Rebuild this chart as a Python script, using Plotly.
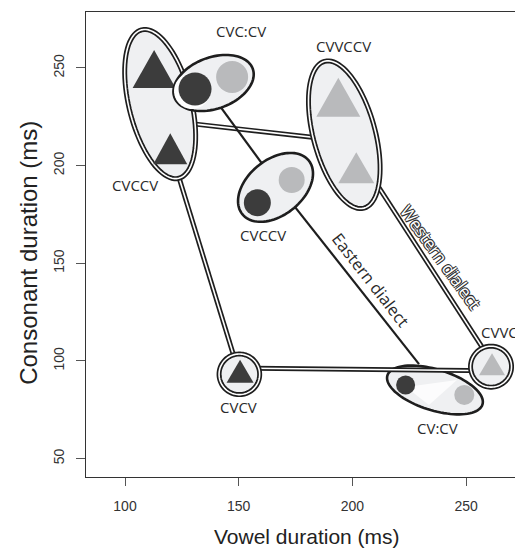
import numpy as np
import plotly.graph_objects as go

# ---------------- data (ms) ----------------
cvccv_w_x = [112.8, 119.9]; cvccv_w_y = [246.2, 206.0]   # Western CVCCV (dark triangles)
cvvccv_x = [193.8, 201.7];  cvvccv_y = [231.6, 196.2]    # Western CVVCCV (grey triangles)
cvcv_x = [150.6];           cvcv_y = [92.8]              # Western CVCV (dark triangle)
cvvcv_x = [261.4];          cvvcv_y = [96.4]             # Western CVVCV (grey triangle)
cvc_cv_x = [130.8, 147.1];  cvc_cv_y = [239.2, 245.3]    # Eastern CVC:CV (dark, grey circle)
cvccv_e_x = [158.2, 173.3]; cvccv_e_y = [181.0, 192.6]   # Eastern CVCCV
cv_cv_x = [223.4, 249.2];   cv_cv_y = [87.7, 82.6]       # Eastern CV:CV

western_links_x = [[120.7, 150.3], [124.2, 190.2], [205.5, 259.6], [150.3, 261.0]]
western_links_y = [[205.4, 93.2], [222.1, 213.5], [199.8, 102.5], [96.3, 95.0]]
eastern_path_x = [135.0, 167.5, 229.3]
eastern_path_y = [241.2, 189.5, 98.4]

x_ticks = [100, 150, 200, 250]
y_ticks = [50, 100, 150, 200, 250]

# ---------------- styles ----------------
DARK = "#3c3c3c"
GREY = "#b9babc"
FILL = "#eff0f2"
INK = "#1e1e1e"
XR = [82.85, 271.5]
YR = [40.6, 278.6]

shapes = []


def ellipse_path(a, b, ang, dx=0.0, dy=0.0, n=90):
    t = np.linspace(0, 2 * np.pi, n, endpoint=False)
    c, s = np.cos(np.radians(ang)), np.sin(np.radians(ang))
    ex, ey = a * np.cos(t), b * np.sin(t)
    px = ex * c - ey * s + dx
    py = ex * s + ey * c + dy
    return "M " + " L ".join(f"{u:.2f},{v:.2f}" for u, v in zip(px, py)) + " Z"


def anchored(path, ax, ay, **kw):
    d = dict(type="path", xref="x", yref="y", xsizemode="pixel", ysizemode="pixel",
             xanchor=ax, yanchor=ay, path=path, layer="below")
    d.update(kw)
    shapes.append(d)


def ellipse(xs, ys, a, b, ang, double, off=(0, 0)):
    cx, cy = float(np.mean(xs)), float(np.mean(ys))
    p = ellipse_path(a, b, ang, off[0], off[1])
    if double:
        anchored(p, cx, cy, fillcolor=FILL, line=dict(color=INK, width=5))
        anchored(p, cx, cy, fillcolor="rgba(0,0,0,0)", line=dict(color="white", width=1.6))
    else:
        anchored(p, cx, cy, fillcolor=FILL, line=dict(color=INK, width=2.6))


def triangle(x, y, w, h, color):
    p = f"M {-w/2:.2f},{-h/3:.2f} L {w/2:.2f},{-h/3:.2f} L 0,{2*h/3:.2f} Z"
    anchored(p, x, y, fillcolor=color, line=dict(width=0))


def double_line(x0, y0, x1, y1):
    shapes.append(dict(type="line", xref="x", yref="y", x0=x0, y0=y0, x1=x1, y1=y1,
                       layer="below", line=dict(color=INK, width=5)))
    shapes.append(dict(type="line", xref="x", yref="y", x0=x0, y0=y0, x1=x1, y1=y1,
                       layer="below", line=dict(color="white", width=1.6)))


# CV:CV ellipse first (lines cross it)
ellipse(cv_cv_x, cv_cv_y, 49.7, 20.5, -17, False)
anchored("M -29,3 L -6,-15 L 22,10 Z", float(np.mean(cv_cv_x)), float(np.mean(cv_cv_y)),
         fillcolor="rgba(255,255,255,0.8)", line=dict(width=0))

# connecting lines
for lx, ly in zip(western_links_x, western_links_y):
    double_line(lx[0], ly[0], lx[1], ly[1])
for i in range(len(eastern_path_x) - 1):
    shapes.append(dict(type="line", xref="x", yref="y",
                       x0=eastern_path_x[i], y0=eastern_path_y[i],
                       x1=eastern_path_x[i + 1], y1=eastern_path_y[i + 1],
                       layer="below", line=dict(color=INK, width=2.2)))

# Western CVCCV
ellipse(cvccv_w_x, cvccv_w_y, 76.5, 31.2, 104, True, off=(-2, 10.5))
triangle(cvccv_w_x[0], cvccv_w_y[0], 43, 38, DARK)
triangle(cvccv_w_x[1], cvccv_w_y[1], 34, 31, DARK)
# Eastern CVC:CV
ellipse(cvc_cv_x, cvc_cv_y, 41.7, 25.7, 20, False)
anchored(ellipse_path(18, 18, 0, -3, -2), cvc_cv_x[0], cvc_cv_y[0],
         fillcolor="white", line=dict(width=0))
# Eastern CVCCV
ellipse(cvccv_e_x, cvccv_e_y, 42.7, 27.7, 39, False, off=(1, 4))
# Western CVVCCV
ellipse(cvvccv_x, cvvccv_y, 76, 31, 105, True, off=(-3, 3.7))
triangle(cvvccv_x[0], cvvccv_y[0], 44, 39, GREY)
triangle(cvvccv_x[1], cvvccv_y[1], 36, 31, GREY)
# Western CVCV
ellipse(cvcv_x, cvcv_y, 20.3, 20.3, 0, True, off=(-0.7, 0.7))
triangle(cvcv_x[0], cvcv_y[0], 27, 23, DARK)
# Western CVVCV
ellipse(cvvcv_x, cvvcv_y, 20.5, 20.5, 0, True, off=(-1, 1.3))
triangle(cvvcv_x[0], cvvcv_y[0], 26, 22, GREY)

fig = go.Figure()
# Eastern circles (dark first point, grey second point in each group)
for xs, ys, sizes in [(cvc_cv_x, cvc_cv_y, [33, 32]),
                      (cvccv_e_x, cvccv_e_y, [27, 26]),
                      (cv_cv_x, cv_cv_y, [19, 20])]:
    fig.add_trace(go.Scatter(x=xs, y=ys, mode="markers", opacity=1,
                             marker=dict(size=sizes, color=[DARK, GREY], opacity=1,
                                         line=dict(width=0)),
                             hoverinfo="x+y", showlegend=False))

LBL = dict(family="Open Sans", size=15, color="#2a2a2a")
ann = []


def label(text, x, y, xanchor="center", font=LBL, angle=0):
    ann.append(dict(text=text, x=x, y=y, xref="x", yref="y", showarrow=False,
                    xanchor=xanchor, yanchor="middle", font=font, textangle=angle))


label("CVC:CV", 151.0, 268.9)
label("CVVCCV", 195.9, 261.3)
label("CVCCV", 104.4, 190.0)
label("CVCCV", 160.8, 164.4)
label("CVCV", 150.1, 76.6)
label("CVVCV", 255.7, 115.0, xanchor="left")
label("CV:CV", 237.4, 65.9)
label("Eastern dialect", 207.96, 141.5,
      font=dict(family="Open Sans", size=16.5, color="#2a2a2a"), angle=52)
label("Western dialect", 238.9, 152.9,
      font=dict(family="Open Sans", size=17, color="white",
                shadow="-1px -1px 0 #333, 1px -1px 0 #333, -1px 1px 0 #333, 1px 1px 0 #333"),
      angle=54)

AX = dict(family="Liberation Sans, Arial, sans-serif", color="#222")
ann.append(dict(text="Vowel duration (ms)", x=0.515, y=-0.129, xref="paper", yref="paper",
                showarrow=False, xanchor="center", yanchor="middle", font=dict(AX, size=21)))
ann.append(dict(text="Consonant duration (ms)", x=-0.133, y=0.482, xref="paper", yref="paper",
                showarrow=False, xanchor="center", yanchor="middle", textangle=-90,
                font=dict(AX, size=24)))

fig.update_layout(
    width=515, height=548,
    margin=dict(l=86, r=0, t=12, b=71),
    plot_bgcolor="white", paper_bgcolor="white",
    showlegend=False,
    shapes=shapes, annotations=ann,
    xaxis=dict(range=XR, tickvals=x_ticks, ticks="outside", ticklen=8, tickwidth=1,
               tickcolor="#555", showline=True, linecolor="#333", linewidth=1.3,
               mirror=True, showgrid=False, zeroline=False, ticklabelstandoff=8,
               tickfont=dict(family="Liberation Sans, Arial, sans-serif", size=14, color="#333")),
    yaxis=dict(range=YR, tickvals=y_ticks, ticks="outside", ticklen=9, tickwidth=1,
               tickcolor="#555", showline=True, linecolor="#333", linewidth=1.3,
               mirror=False, showgrid=False, zeroline=False, tickangle=-90,
               ticklabelstandoff=6,
               tickfont=dict(family="Liberation Sans, Arial, sans-serif", size=14, color="#333")),
)

fig.write_html("out.html")
